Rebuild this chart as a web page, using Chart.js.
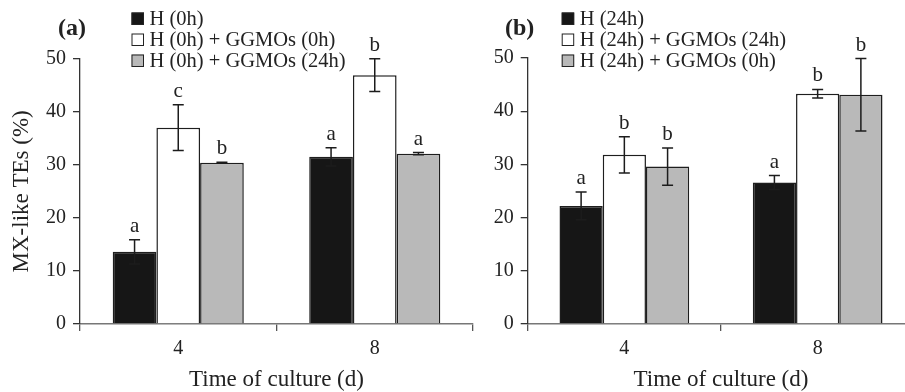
<!DOCTYPE html>
<html>
<head>
<meta charset="utf-8">
<script src="https://cdn.jsdelivr.net/npm/chart.js@4.4.0/dist/chart.umd.min.js"></script>
<style>
  html, body { margin: 0; padding: 0; background: #fff; overflow: hidden; width: 905px; height: 392px; }
  canvas { position: absolute; top: 0; }
  #chartA { left: 0; }
  #chartB { left: 460px; }
</style>
</head>
<body>
<canvas id="chartA" width="480" height="392"></canvas>
<canvas id="chartB" width="470" height="392"></canvas>
<script>
// data
const days = ['4', '8'];
const yTicks = [0, 10, 20, 30, 40, 50];

const labelsA = ['H (0h)', 'H (0h) + GGMOs (0h)', 'H (0h) + GGMOs (24h)'];
const hA = [13.6, 31.5];
const hGg0A = [37.0, 46.9];
const hGg24A = [30.4, 32.1];
const errHA = [2.3, 1.7];
const errGg0A = [4.3, 3.1];
const errGg24A = [0.1, 0.2];
const lettersA = [['a', 'a'], ['c', 'b'], ['b', 'a']];

const labelsB = ['H (24h)', 'H (24h) + GGMOs (24h)', 'H (24h) + GGMOs (0h)'];
const hB = [22.2, 26.6];
const hGg24B = [31.8, 43.3];
const hGg0B = [29.6, 43.1];
const errHB = [2.6, 1.3];
const errGg24B = [3.4, 0.8];
const errGg0B = [3.5, 6.8];
const lettersB = [['a', 'a'], ['b', 'b'], ['b', 'b']];

const fills = ['#161616', '#ffffff', '#b9b9b9'];
const serif = '"Liberation Serif", "DejaVu Serif", serif';
Chart.defaults.font.family = serif;
Chart.defaults.color = '#222';

// error bars, letters, legend, panel tag
const extras = {
  id: 'extras',
  afterDatasetsDraw(chart, args, opts) {
    const ctx = chart.ctx;
    const y = chart.scales.y;
    ctx.save();
    chart.data.datasets.forEach((ds, i) => {
      const meta = chart.getDatasetMeta(i);
      meta.data.forEach((bar, j) => {
        const v = ds.data[j], e = opts.errors[i][j];
        const top = y.getPixelForValue(v + e);
        const bot = y.getPixelForValue(v - e);
        ctx.strokeStyle = '#1c1c1c';
        ctx.lineWidth = 1.5;
        ctx.beginPath();
        ctx.moveTo(bar.x, top); ctx.lineTo(bar.x, bot);
        ctx.moveTo(bar.x - 5.5, top); ctx.lineTo(bar.x + 5.5, top);
        ctx.moveTo(bar.x - 5.5, bot); ctx.lineTo(bar.x + 5.5, bot);
        ctx.stroke();
        ctx.fillStyle = '#222';
        ctx.font = '21px ' + serif;
        ctx.textAlign = 'center';
        ctx.textBaseline = 'alphabetic';
        ctx.fillText(opts.letters[i][j], bar.x, top - 8);
      });
    });
    ctx.restore();
  },
  afterDraw(chart, args, opts) {
    const ctx = chart.ctx;
    ctx.save();
    chart.data.datasets.forEach((ds, i) => {
      const cy = opts.legendY + i * 21;
      ctx.fillStyle = ds.backgroundColor;
      ctx.fillRect(opts.legendX, cy - 6.5, 12.5, 12.5);
      ctx.strokeStyle = '#222';
      ctx.lineWidth = 1;
      ctx.strokeRect(opts.legendX + 0.5, cy - 6, 11.5, 11.5);
      ctx.fillStyle = '#222';
      ctx.font = '20.5px ' + serif;
      ctx.textAlign = 'left';
      ctx.textBaseline = 'middle';
      ctx.fillText(ds.label, opts.legendX + 18, cy + 1);
    });
    ctx.font = 'bold 24px ' + serif;
    ctx.textAlign = 'left';
    ctx.textBaseline = 'middle';
    ctx.fillText(opts.tag, opts.tagX, 29);
    ctx.restore();
  }
};

function makePanel(id, labels, series, errors, letters, cfg) {
  return new Chart(document.getElementById(id), {
    type: 'bar',
    data: {
      labels: days,
      datasets: series.map((s, i) => ({
        label: labels[i],
        data: s,
        backgroundColor: fills[i],
        borderColor: '#1e1e1e',
        borderWidth: 1.5,
        categoryPercentage: cfg.catPct,
        barPercentage: 1
      }))
    },
    options: {
      responsive: false,
      animation: false,
      layout: { padding: { top: cfg.top, right: cfg.right, left: 0, bottom: 0 } },
      plugins: {
        legend: { display: false },
        tooltip: { enabled: false },
        extras: { errors: errors, letters: letters, legendX: cfg.legendX, legendY: 19, tag: cfg.tag, tagX: cfg.tagX }
      },
      scales: {
        x: {
          grid: { display: true, offset: true, drawOnChartArea: false, tickLength: 7, color: '#555', lineWidth: 1.3 },
          border: { color: '#777', width: 1.5 },
          ticks: { font: { size: 20 }, padding: 6, color: '#222' },
          title: { display: true, text: 'Time of culture (d)', font: { size: 23, lineHeight: 1 }, padding: { top: 0, bottom: 1 }, color: '#222' },
          afterFit: s => { s.height = 68; }
        },
        y: {
          min: 0, max: 50,
          afterBuildTicks: s => { s.ticks = yTicks.map(v => ({ value: v })); },
          grid: { display: true, drawOnChartArea: false, tickLength: 7, color: '#333', lineWidth: 1.3 },
          border: { color: '#333', width: 1.3 },
          ticks: { font: { size: 20 }, padding: 7, color: '#222' },
          title: { display: cfg.yTitle, text: 'MX-like TEs (%)', font: { size: 23, lineHeight: 1 }, padding: { top: 10, bottom: 0 }, color: '#222' },
          afterFit: s => { s.width = cfg.yWidth; }
        }
      }
    },
    plugins: [extras]
  });
}

makePanel('chartA', labelsA, [hA, hGg0A, hGg24A], [errHA, errGg0A, errGg24A], lettersA,
  { catPct: 0.667, top: 58.7, right: 7, yWidth: 80, yTitle: true, legendX: 131.5, tag: '(a)', tagX: 58 });
makePanel('chartB', labelsB, [hB, hGg24B, hGg0B], [errHB, errGg24B, errGg0B], lettersB,
  { catPct: 0.671, top: 58, right: 15.7, yWidth: 67.7, yTitle: false, legendX: 101.7, tag: '(b)', tagX: 45 });
</script>
</body>
</html>
